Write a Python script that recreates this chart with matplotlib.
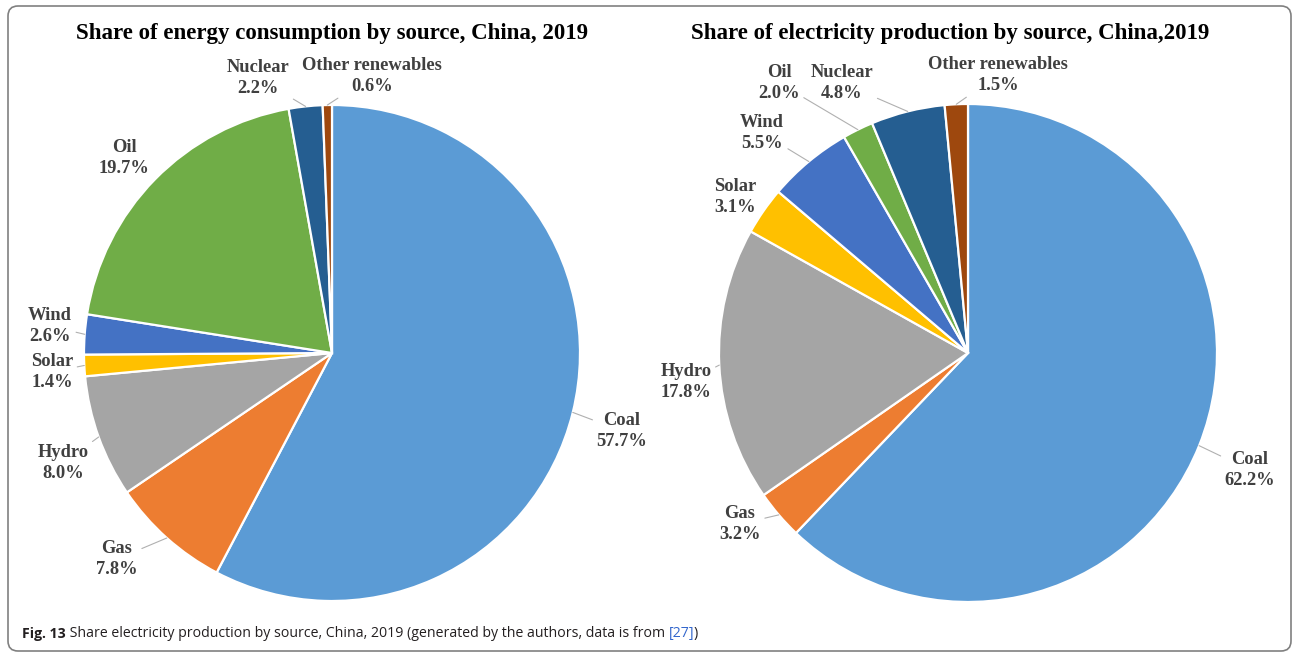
import numpy as np
import matplotlib.pyplot as plt
from matplotlib.patches import FancyBboxPatch

W, H = 1294, 655

sources = ['Coal', 'Gas', 'Hydro', 'Solar', 'Wind', 'Oil', 'Nuclear', 'Other renewables']
energy_share = [57.7, 7.8, 8.0, 1.4, 2.6, 19.7, 2.2, 0.6]
electricity_share = [62.2, 3.2, 17.8, 3.1, 5.5, 2.0, 4.8, 1.5]
colors = ['#5B9BD5', '#ED7D31', '#A5A5A5', '#FFC000', '#4472C4', '#70AD47', '#255E91', '#9E480E']

titles = ['Share of energy consumption by source, China, 2019',
          'Share of electricity production by source, China,2019']

# layout (pixels, y down)
pie_centers = [(332, 353), (968, 353)]
pie_radius = [248, 249]
title_xy = [(332, 33), (950, 33)]
label_xy = [
    [(622, 431), (117, 559), (63, 463), (52, 372), (50, 326), (124, 158), (258, 78), (372, 76)],
    [(1250, 470), (740, 524), (686, 382), (735, 197), (762, 133), (779, 83), (842, 83), (998, 75)],
]
has_leader = [
    [True, True, True, True, True, False, True, True],
    [True, True, True, False, True, True, True, True],
]

serif = 'Liberation Serif'
label_color = '#404040'


def px(x, y):
    return x, H - y


fig = plt.figure(figsize=(W / 100, H / 100), dpi=100)
ax = fig.add_axes([0, 0, 1, 1])

for i, shares in enumerate([energy_share, electricity_share]):
    cx, cy = px(*pie_centers[i])
    r = pie_radius[i]
    wedges, _ = ax.pie(shares, colors=colors, startangle=90, counterclock=False,
                       center=(cx, cy), radius=r,
                       wedgeprops=dict(edgecolor='white', linewidth=1.6))
    for j, w in enumerate(wedges):
        mid = np.deg2rad((w.theta1 + w.theta2) / 2)
        edge = (cx + r * np.cos(mid), cy + r * np.sin(mid))
        arrow = None
        if has_leader[i][j]:
            arrow = dict(arrowstyle='-', color='#B0B0B0', lw=0.8, shrinkA=1, shrinkB=0)
        ax.annotate('{}\n{:.1f}%'.format(sources[j], shares[j]), xy=edge,
                    xytext=px(*label_xy[i][j]), ha='center', va='center',
                    family=serif, weight='bold', fontsize=13.3, color=label_color,
                    linespacing=1.25, arrowprops=arrow)
    ax.text(*px(*title_xy[i]), titles[i], ha='center', va='center',
            family=serif, weight='bold', fontsize=16.5, color='black')

ax.set_xlim(0, W)
ax.set_ylim(0, H)
ax.set_aspect('equal')
ax.axis('off')

# frame
box = FancyBboxPatch((8, 4), 1283, 645, boxstyle='round,pad=0,rounding_size=10',
                     fill=False, edgecolor='#808080', lw=1.2)
ax.add_patch(box)

# caption
cap_font = ['Open Sans', 'DejaVu Sans']
t = ax.text(*px(22, 638), 'Fig. 13', ha='left', va='baseline', family=cap_font,
            weight='bold', fontsize=10.2, color='#231F20')
parts = [(' Share electricity production by source, China, 2019 (generated by the authors, data is from ', '#231F20'),
         ('[27]', '#3366CC'), (')', '#231F20')]
for s, c in parts:
    t = ax.annotate(s, xy=(1, 0), xycoords=t, ha='left', va='bottom',
                    family=cap_font, fontsize=10.2, color=c)

fig.savefig('out.png', dpi=100)
